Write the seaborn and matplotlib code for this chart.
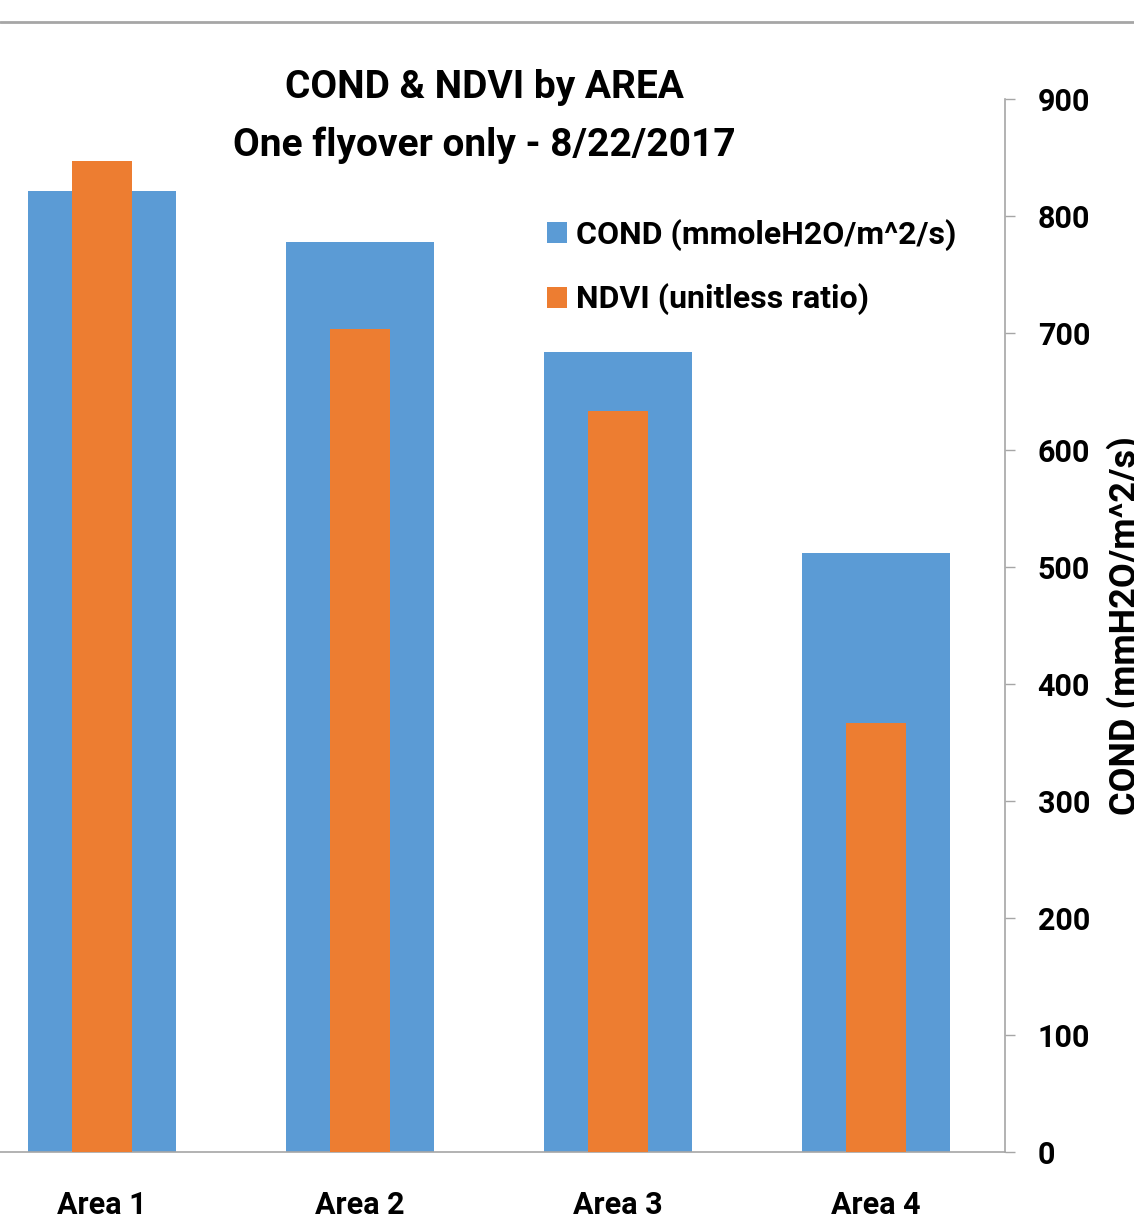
import matplotlib
matplotlib.use("Agg")
import matplotlib.pyplot as plt
from matplotlib.lines import Line2D
from matplotlib.patches import Patch
import seaborn as sns
import pandas as pd

# Survey areas and the measured values from the single flyover
areas = ["Area 1", "Area 2", "Area 3", "Area 4"]
cond = [821, 778, 684, 512]          # mmoleH2O/m^2/s
ndvi = [0.847, 0.703, 0.633, 0.367]  # unitless ratio
cond_ticks = [0, 100, 200, 300, 400, 500, 600, 700, 800, 900]

title_lines = ["COND & NDVI by AREA", "One flyover only - 8/22/2017"]
cond_label = "COND (mmoleH2O/m^2/s)"
ndvi_label = "NDVI (unitless ratio)"
axis_title = "COND (mmH2O/m^2/s)"

BLUE = "#5B9BD5"
ORANGE = "#ED7D31"
GRAY = "#A6A6A6"

sns.set_theme(style="white")
plt.rcParams["font.family"] = ["Roboto", "DejaVu Sans"]
plt.rcParams["font.weight"] = "bold"
plt.rcParams["text.color"] = "black"
plt.rcParams["axes.labelcolor"] = "black"

df = pd.DataFrame({"area": areas, "cond": cond, "ndvi": ndvi})

W, H = 1134, 1226
fig = plt.figure(figsize=(W / 100, H / 100), dpi=100)
# plot area spans x -27..1005 px, y 99..1152 px
ax = fig.add_axes([-27 / W, (H - 1152) / H, 1032 / W, 1053 / H])

sns.barplot(data=df, x="area", y="cond", color=BLUE, width=0.574,
            saturation=1, linewidth=0, ax=ax)
ax2 = ax.twinx()
sns.barplot(data=df, x="area", y="ndvi", color=ORANGE, width=0.236,
            saturation=1, linewidth=0, ax=ax2)

ax.set_xlim(-0.5, 3.5)
ax.set_ylim(0, 900)
ax2.set_ylim(0, 0.9)
ax2.set_axis_off()

# COND value axis on the right
ax.yaxis.tick_right()
ax.set_yticks(cond_ticks)
ax.set_yticklabels([str(t) for t in cond_ticks])
ax.tick_params(axis="y", which="major", direction="out", length=7.5,
               width=1, color=GRAY, pad=16, labelsize=22, labelcolor="black")

# category labels centred, tick marks on the category boundaries
ax.set_xticks(range(len(areas)))
ax.set_xticklabels(areas)
ax.set_xticks([0.5, 1.5, 2.5, 3.5], minor=True)
ax.tick_params(axis="x", which="major", length=0, pad=27, labelsize=22,
               labelcolor="black")
ax.tick_params(axis="x", which="minor", direction="out", length=9.5,
               width=1, color=GRAY)
ax.set_xlabel("")

for side in ["top", "left"]:
    ax.spines[side].set_visible(False)
for side in ["bottom", "right"]:
    ax.spines[side].set_visible(True)
    ax.spines[side].set_color(GRAY)
    ax.spines[side].set_linewidth(1.2)
ax.grid(False)

ax.set_ylabel(axis_title, fontsize=26, fontweight="bold", color="black")
ax.yaxis.set_label_position("right")
ax.yaxis.set_label_coords((1106 + 27) / 1032, 0.4995)

# chart titles
fig.text(484 / W, 1 - 88 / H, title_lines[0], ha="center", va="center",
         fontsize=28, fontweight="bold", color="black")
fig.text(484 / W, 1 - 145 / H, title_lines[1], ha="center", va="center",
         fontsize=28, fontweight="bold", color="black")

# legend
handles = [Patch(facecolor=BLUE, edgecolor="none", label=cond_label),
           Patch(facecolor=ORANGE, edgecolor="none", label=ndvi_label)]
leg = fig.legend(handles=handles, loc="upper left",
                 bbox_to_anchor=(547 / W, 1 - 219 / H),
                 frameon=False, fontsize=23, handlelength=0.62,
                 handleheight=0.62, handletextpad=0.28, labelspacing=1.02,
                 borderaxespad=0, borderpad=0)
for t in leg.get_texts():
    t.set_color("black")

# chart area border line across the top
fig.add_artist(Line2D([0, 1], [1 - 22 / H, 1 - 22 / H],
                      transform=fig.transFigure, color=GRAY, lw=2))

fig.savefig("out.png", dpi=100)
